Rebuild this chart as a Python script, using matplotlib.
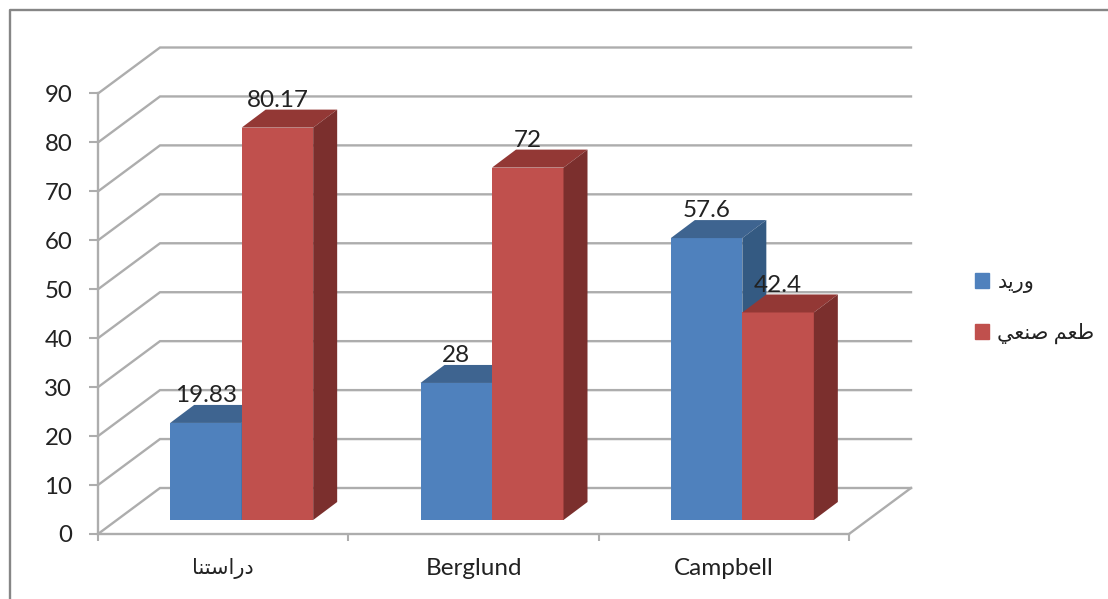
import matplotlib
matplotlib.use("Agg")
import matplotlib.pyplot as plt
from matplotlib.lines import Line2D
from matplotlib.patches import Polygon

# matplotlib does no Arabic shaping, so these are presentation forms in display order
categories = ['\ufe8e\ufee8\ufe98\ufeb3\ufe8d\ufead\ufea9', 'Berglund', 'Campbell']
series_names = ['\ufeaa\ufef3\ufead\ufeed', '\ufef2\ufecc\ufee8\ufebb \ufee2\ufecc\ufec3']
iv_values = [19.83, 28, 57.6]
flavor_values = [80.17, 72, 42.4]
value_ticks = [0, 10, 20, 30, 40, 50, 60, 70, 80, 90]

W, H = 1108, 599
X0, X1, Y0, Y90 = 98, 849, 534, 93.5
px_x = (X1 - X0) / 3
px_y = (Y0 - Y90) / 90

GRID = '#adadad'
TEXT = '#222222'
FACES = {'blue': ('#4f81bd', '#3e6490', '#345a82'),
         'red': ('#c0504d', '#933835', '#7b2f2d')}

# fake 3D: wall depth and bar depth, converted from pixels to data units
wall_dx, wall_dy = 62 / px_x, 46 / px_y
plane_dx, plane_dy = 18.5 / px_x, 14 / px_y
depth_dx, depth_dy = 24 / px_x, 18 / px_y
bar_w = 71.5 / px_x

plt.rcParams['font.family'] = ['Lato', 'DejaVu Sans']

fig = plt.figure(figsize=(W / 100, H / 100), dpi=100)
ax = fig.add_axes([X0 / W, 1 - Y0 / H, (X1 - X0) / W, (Y0 - Y90) / H])
ax.set_xlim(0, 3)
ax.set_ylim(0, 90)
ax.patch.set_visible(False)

# outer chart border, open on the right and bottom
fig.add_artist(Line2D([10 / W, 10 / W, 1], [0, 1 - 10 / H, 1 - 10 / H],
                      color='#868686', lw=1.7, transform=fig.transFigure))

# walls and floor
for v in value_ticks:
    ax.plot([0, wall_dx, 3 + wall_dx], [v, v + wall_dy, v + wall_dy],
            color=GRID, lw=1.7, clip_on=False, zorder=1, solid_joinstyle='miter')
ax.plot([3, 3 + wall_dx], [0, wall_dy], color=GRID, lw=1.7, clip_on=False, zorder=1)


def draw_bar(x, value, colors):
    front, top, side = colors
    y0 = plane_dy
    y1 = plane_dy + value
    ax.bar(x, value, bar_w, bottom=y0, align='edge', color=front, clip_on=False, zorder=3)
    ax.add_patch(Polygon([(x, y1), (x + bar_w, y1),
                          (x + bar_w + depth_dx, y1 + depth_dy), (x + depth_dx, y1 + depth_dy)],
                         closed=True, color=top, lw=0, clip_on=False, zorder=3))
    ax.add_patch(Polygon([(x + bar_w, y0), (x + bar_w + depth_dx, y0 + depth_dy),
                          (x + bar_w + depth_dx, y1 + depth_dy), (x + bar_w, y1)],
                         closed=True, color=side, lw=0, clip_on=False, zorder=3))
    ax.annotate(str(value), (x + bar_w / 2, y1), xytext=(0, 19.5), textcoords='offset points',
                ha='center', va='center', fontsize=17.5, color=TEXT, zorder=5,
                annotation_clip=False)


for i in range(len(categories)):
    center = i + 0.5 + plane_dx
    draw_bar(center - bar_w, iv_values[i], FACES['blue'])
    draw_bar(center, flavor_values[i], FACES['red'])

# axes
for name in ['top', 'right']:
    ax.spines[name].set_visible(False)
for name in ['left', 'bottom']:
    ax.spines[name].set_color(GRID)
    ax.spines[name].set_linewidth(1.7)

ax.set_yticks(value_ticks)
ax.tick_params(axis='y', length=6.5, width=1.5, color=GRID, pad=12, labelsize=17.3, labelcolor=TEXT)
ax.set_xticks([0, 1, 2, 3])
ax.set_xticklabels([])
ax.tick_params(axis='x', which='major', length=5, width=1.5, color=GRID)
ax.set_xticks([0.5, 1.5, 2.5], minor=True)
ax.set_xticklabels(categories, minor=True)
ax.tick_params(axis='x', which='minor', length=0, pad=17.2, labelsize=17.5, labelcolor=TEXT)
# the Arabic label runs wider than the Latin ones at the same size
ax.xaxis.get_minorticklabels()[0].set_fontsize(15)

# legend
handles = [plt.Rectangle((0, 0), 1, 1, color=FACES['blue'][0]),
           plt.Rectangle((0, 0), 1, 1, color=FACES['red'][0])]
fig.legend(handles, series_names, loc='center left', bbox_to_anchor=(975 / W, 1 - 308 / H),
           frameon=False, fontsize=15, handlelength=0.67, handleheight=0.72,
           handletextpad=0.4, labelspacing=1.42, borderpad=0, borderaxespad=0,
           labelcolor=TEXT)

fig.savefig('out.png', dpi=100)
